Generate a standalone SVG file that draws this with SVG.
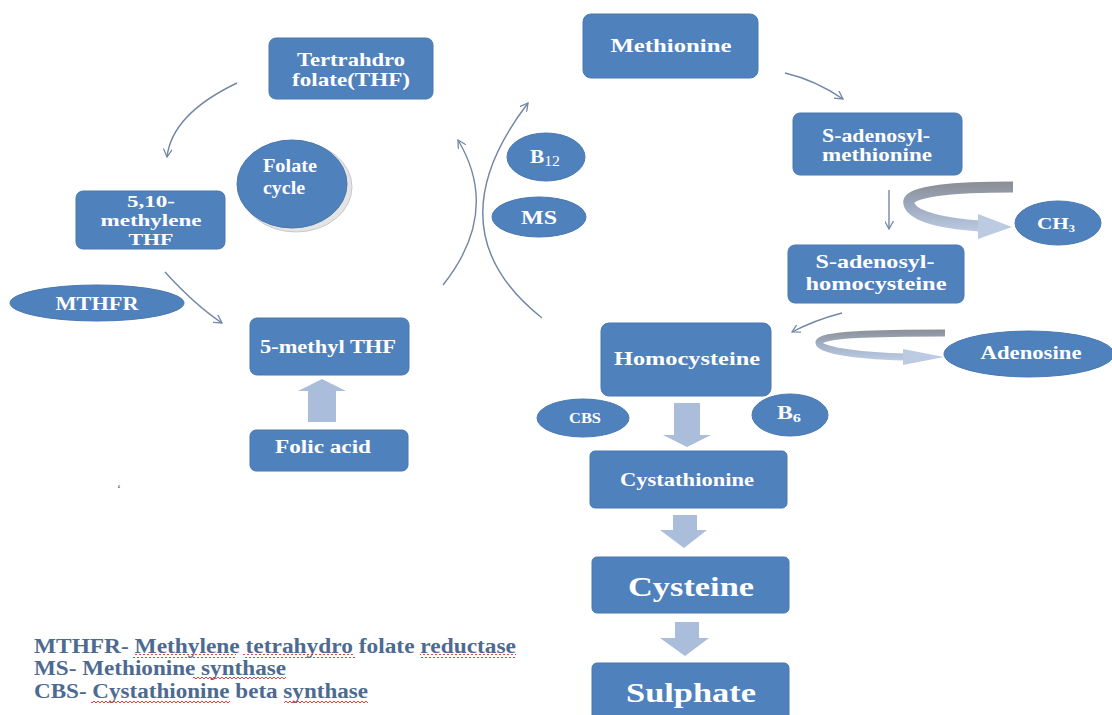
<svg xmlns="http://www.w3.org/2000/svg" width="1112" height="715" viewBox="0 0 1112 715">
<defs>
<style>
.box{fill:#4f81bd;stroke:#4a78b0;stroke-width:1}
.ell{fill:#4f81bd;stroke:#4a78b0;stroke-width:1}
.t{font-family:"Liberation Serif","Times New Roman",serif;font-weight:bold;fill:#ffffff;font-size:19px;text-anchor:middle}
.big{font-size:27px}
.conn{fill:none;stroke:#7386a6;stroke-width:1.4}
.blk{fill:#aabddb}
.leg{font-family:"Liberation Serif","Times New Roman",serif;font-weight:bold;fill:#4d6a90;font-size:20px}
.sq{fill:url(#wave)}
</style>
<marker id="arr" viewBox="0 0 10 10" refX="9" refY="5" markerWidth="9" markerHeight="9" markerUnits="userSpaceOnUse" orient="auto">
<path d="M0,0 L9,5 L0,10" fill="none" stroke="#7386a6" stroke-width="1.4"/>
</marker>
<linearGradient id="g1" gradientUnits="userSpaceOnUse" x1="0" y1="182" x2="0" y2="232">
<stop offset="0" stop-color="#8a8e95"/>
<stop offset="0.5" stop-color="#9eabc0"/>
<stop offset="1" stop-color="#bccbe2"/>
</linearGradient>
<linearGradient id="g2" gradientUnits="userSpaceOnUse" x1="0" y1="329" x2="0" y2="360">
<stop offset="0" stop-color="#8a8e95"/>
<stop offset="0.5" stop-color="#a2afc4"/>
<stop offset="1" stop-color="#bccbe2"/>
</linearGradient>
<pattern id="wave" width="4" height="4" patternUnits="userSpaceOnUse">
<path d="M0,3 L2,1 L4,3" fill="none" stroke="#e03030" stroke-width="0.9"/>
</pattern>
</defs>
<rect width="1112" height="715" fill="#ffffff"/>

<g id="connectors">
<path class="conn" d="M237,83 Q172,114 167,157" marker-end="url(#arr)"/>
<path class="conn" d="M165,272 Q195,305 222,323" marker-end="url(#arr)"/>
<path class="conn" d="M443,285 Q501,212 458,140" marker-end="url(#arr)"/>
<path class="conn" d="M542,318 Q431,230 528,103" marker-end="url(#arr)"/>
<path class="conn" d="M785,73 Q815,80 843,99" marker-end="url(#arr)"/>
<path class="conn" d="M889,190 L889,229" marker-end="url(#arr)"/>
<path class="conn" d="M842,313 Q815,320 792,332" marker-end="url(#arr)"/>
<path d="M1013,187 C960,187 905,190 909,204 C913,218 950,224 980,226" fill="none" stroke="url(#g1)" stroke-width="11"/>
<polygon points="978,214 1012,227 978,239" fill="#bccbe2"/>
<path d="M945,333 C880,333 817,334 819,343 C821,352 870,356 905,357" fill="none" stroke="url(#g2)" stroke-width="7"/>
<polygon points="903,349 944,357 903,365" fill="#bccbe2"/>
<polygon class="blk" points="322,379 346,391 336,391 336,422 308,422 308,391 298,391"/>
<polygon class="blk" points="674,403 700,403 700,435 711,435 687,447 663,435 674,435"/>
<polygon class="blk" points="673,515 697,515 697,530 707,530 684,548 660,530 673,530"/>
<polygon class="blk" points="675,622 699,622 699,638 709,638 685,656 660,638 675,638"/>
</g>

<g id="thf"><rect class="box" x="269" y="38" width="164" height="61" rx="7"/>
<text class="t" x="351" y="66" textLength="108" lengthAdjust="spacingAndGlyphs">Tertrahdro</text>
<text class="t" x="351" y="86" textLength="118" lengthAdjust="spacingAndGlyphs">folate(THF)</text></g>

<g id="methylene"><rect class="box" x="76" y="191" width="149" height="58" rx="7"/>
<text class="t" x="151" y="207" style="font-size:17px" textLength="48" lengthAdjust="spacingAndGlyphs">5,10-</text>
<text class="t" x="151" y="226" style="font-size:17px" textLength="101" lengthAdjust="spacingAndGlyphs">methylene</text>
<text class="t" x="151" y="245" style="font-size:17px" textLength="45" lengthAdjust="spacingAndGlyphs">THF</text></g>

<g id="folatecycle"><ellipse cx="296" cy="187" rx="56" ry="45" fill="#e4e4e4" stroke="#c9c9c9" stroke-width="1"/>
<ellipse class="ell" cx="292" cy="184" rx="55" ry="44"/>
<text class="t" x="263" y="172" style="text-anchor:start" textLength="54" lengthAdjust="spacingAndGlyphs">Folate</text>
<text class="t" x="263" y="194" style="text-anchor:start" textLength="42" lengthAdjust="spacingAndGlyphs">cycle</text></g>

<g id="mthfr"><ellipse class="ell" cx="97" cy="303" rx="87" ry="18"/>
<text class="t" x="97" y="310" textLength="83" lengthAdjust="spacingAndGlyphs">MTHFR</text></g>

<g id="methylthf"><rect class="box" x="250" y="318" width="159" height="57" rx="7"/>
<text class="t" x="328" y="353" textLength="136" lengthAdjust="spacingAndGlyphs">5-methyl THF</text></g>

<g id="folicacid"><rect class="box" x="250" y="430" width="158" height="41" rx="6"/>
<text class="t" x="323" y="453" textLength="96" lengthAdjust="spacingAndGlyphs">Folic acid</text></g>

<text x="117" y="493" style="font-family:'Liberation Serif',serif;font-size:12px;fill:#555">‘</text>

<g id="b12"><ellipse class="ell" cx="546" cy="157" rx="39" ry="24"/>
<text class="t" x="545" y="163" textLength="30" lengthAdjust="spacingAndGlyphs">B<tspan style="font-size:14px;font-weight:normal" dy="3">12</tspan></text></g>

<g id="ms"><ellipse class="ell" cx="539" cy="217" rx="47" ry="20"/>
<text class="t" x="539" y="224" textLength="36" lengthAdjust="spacingAndGlyphs">MS</text></g>

<g id="methionine"><rect class="box" x="583" y="14" width="175" height="64" rx="8"/>
<text class="t" x="671" y="52" textLength="121" lengthAdjust="spacingAndGlyphs">Methionine</text></g>

<g id="sam"><rect class="box" x="793" y="113" width="169" height="62" rx="7"/>
<text class="t" x="876" y="142" textLength="108" lengthAdjust="spacingAndGlyphs">S-adenosyl-</text>
<text class="t" x="877" y="161" textLength="110" lengthAdjust="spacingAndGlyphs">methionine</text></g>

<g id="ch3"><ellipse class="ell" cx="1058" cy="223" rx="43" ry="22"/>
<text class="t" x="1056" y="229" style="font-size:17px" textLength="38" lengthAdjust="spacingAndGlyphs">CH<tspan style="font-size:10px" dy="3">3</tspan></text></g>

<g id="sah"><rect class="box" x="788" y="245" width="176" height="58" rx="7"/>
<text class="t" x="875" y="268" textLength="119" lengthAdjust="spacingAndGlyphs">S-adenosyl-</text>
<text class="t" x="876" y="290" textLength="141" lengthAdjust="spacingAndGlyphs">homocysteine</text></g>

<g id="homocysteine"><rect class="box" x="601" y="323" width="170" height="73" rx="8"/>
<text class="t" x="687" y="365" textLength="146" lengthAdjust="spacingAndGlyphs">Homocysteine</text></g>

<g id="adenosine"><ellipse class="ell" cx="1029" cy="354" rx="85" ry="23"/>
<text class="t" x="1031" y="359" textLength="101" lengthAdjust="spacingAndGlyphs">Adenosine</text></g>

<g id="cbs"><ellipse class="ell" cx="583" cy="418" rx="46" ry="19"/>
<text class="t" x="585" y="423" style="font-size:14px" textLength="32" lengthAdjust="spacingAndGlyphs">CBS</text></g>

<g id="b6"><ellipse class="ell" cx="790" cy="415" rx="38" ry="21"/>
<text class="t" x="789" y="419" textLength="24" lengthAdjust="spacingAndGlyphs">B<tspan style="font-size:13px" dy="3">6</tspan></text></g>

<g id="cystathionine"><rect class="box" x="590" y="451" width="197" height="57" rx="5"/>
<text class="t" x="687" y="486" textLength="134" lengthAdjust="spacingAndGlyphs">Cystathionine</text></g>

<g id="cysteine"><rect class="box" x="592" y="557" width="197" height="56" rx="5"/>
<text class="t big" x="691" y="596" textLength="126" lengthAdjust="spacingAndGlyphs">Cysteine</text></g>

<g id="sulphate"><rect class="box" x="592" y="663" width="197" height="60" rx="5"/>
<text class="t big" x="691" y="702" textLength="130" lengthAdjust="spacingAndGlyphs">Sulphate</text></g>

<g id="legend">
<text class="leg" x="34" y="653" textLength="482" lengthAdjust="spacingAndGlyphs">MTHFR- Methylene tetrahydro folate reductase</text>
<text class="leg" x="34" y="675" textLength="252" lengthAdjust="spacingAndGlyphs">MS- Methionine synthase</text>
<text class="leg" x="34" y="698" textLength="334" lengthAdjust="spacingAndGlyphs">CBS- Cystathionine beta synthase</text>
<rect class="sq" x="133" y="654" width="103" height="4"/>
<rect class="sq" x="243" y="654" width="112" height="4"/>
<rect class="sq" x="420" y="654" width="96" height="4"/>
<rect class="sq" x="193" y="676" width="93" height="4"/>
<rect class="sq" x="91" y="699" width="139" height="4"/>
<rect class="sq" x="284" y="699" width="84" height="4"/>
</g>
</svg>
